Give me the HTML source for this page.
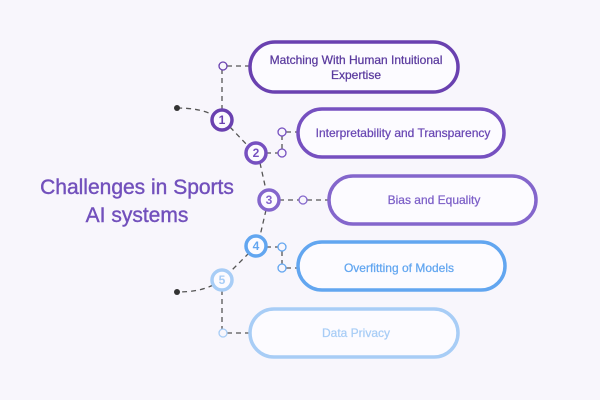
<!DOCTYPE html>
<html><head><meta charset="utf-8"><style>
html,body{margin:0;padding:0;background:#f8f6fc;}
svg{display:block}
text{font-family:"Liberation Sans",sans-serif;}
</style></head><body>
<svg width="600" height="400" viewBox="0 0 600 400" xmlns="http://www.w3.org/2000/svg">
<rect width="600" height="400" fill="#f8f6fc"/>
<g fill="none" stroke="#555" stroke-width="1.3" stroke-dasharray="5,4">
<path d="M177 108 Q200 108 213 115"/>
<path d="M230 127 L248 146"/>
<path d="M260 163 L266 190"/>
<path d="M266 210 L260 236"/>
<path d="M249 253 L230 272"/>
<path d="M213 285 Q200 292 177 292"/>
<path d="M222 110 L222 70"/>
<path d="M227 66 L249 66"/>
<path d="M266 153 L279 153"/>
<path d="M282 149 L282 136"/>
<path d="M286 132 L297 132"/>
<path d="M279 200 L299 200"/>
<path d="M307 200 L328 200"/>
<path d="M266 247 L279 247"/>
<path d="M282 251 L282 264"/>
<path d="M286 268 L297 268"/>
<path d="M222 290 L222 329"/>
<path d="M227 333 L249 333"/>
</g>
<circle cx="177" cy="108" r="3" fill="#333"/>
<circle cx="177" cy="292" r="3" fill="#333"/>
<g fill="#f8f6fc" stroke-width="1.3">
<circle cx="223" cy="66" r="4" stroke="#6a41b0"/>
<circle cx="282" cy="132" r="4" stroke="#7650c0"/>
<circle cx="282" cy="153" r="4" stroke="#7650c0"/>
<circle cx="303" cy="200" r="4" stroke="#8466cc"/>
<circle cx="282" cy="247" r="4" stroke="#62a6f0"/>
<circle cx="282" cy="268" r="4" stroke="#62a6f0"/>
<circle cx="223" cy="333" r="4" stroke="#a8cdf6"/>
</g>
<g fill="#fcfbff" stroke-width="3.5">
<rect x="250" y="42" width="208" height="50" rx="25" stroke="#6a41b0"/>
<rect x="298" y="109" width="206" height="48" rx="24" stroke="#7650c0"/>
<rect x="329" y="176" width="207" height="48" rx="24" stroke="#8466cc"/>
<rect x="298" y="242" width="207" height="48" rx="24" stroke="#62a6f0"/>
<rect x="250" y="309" width="208" height="48" rx="24" stroke="#a8cdf6"/>
</g>
<g fill="#fcfbff" stroke-width="3.5">
<circle cx="222" cy="120" r="10" stroke="#6a41b0"/>
<circle cx="256" cy="153" r="10" stroke="#7650c0"/>
<circle cx="269" cy="200" r="10" stroke="#8466cc"/>
<circle cx="256" cy="246" r="10" stroke="#62a6f0"/>
<circle cx="222" cy="280" r="10" stroke="#a8cdf6"/>
</g>
<g font-size="12" font-weight="bold" text-anchor="middle">
<text x="222" y="124" fill="#6a41b0">1</text>
<text x="256" y="157" fill="#7650c0">2</text>
<text x="269" y="204" fill="#8466cc">3</text>
<text x="256" y="250" fill="#62a6f0">4</text>
<text x="222" y="284" fill="#a8cdf6">5</text>
</g>
<g font-size="12" text-anchor="middle" stroke-width="0.25">
<text x="356" y="64" fill="#5a3a9e" stroke="#5a3a9e">Matching With Human Intuitional</text>
<text x="356" y="79" fill="#5a3a9e" stroke="#5a3a9e">Expertise</text>
<text x="403" y="137" fill="#6a48b4" stroke="#6a48b4">Interpretability and Transparency</text>
<text x="434" y="204" fill="#7d60c8" stroke="#7d60c8">Bias and Equality</text>
<text x="399" y="272" fill="#62a6f0" stroke="#62a6f0">Overfitting of Models</text>
<text x="356" y="337" fill="#a8cdf6" stroke="#a8cdf6">Data Privacy</text>
</g>
<g font-size="21" text-anchor="middle" fill="#7250bc" stroke="#7250bc" stroke-width="0.4">
<text x="137" y="194">Challenges in Sports</text>
<text x="137" y="222">AI systems</text>
</g>
</svg>
</body></html>
